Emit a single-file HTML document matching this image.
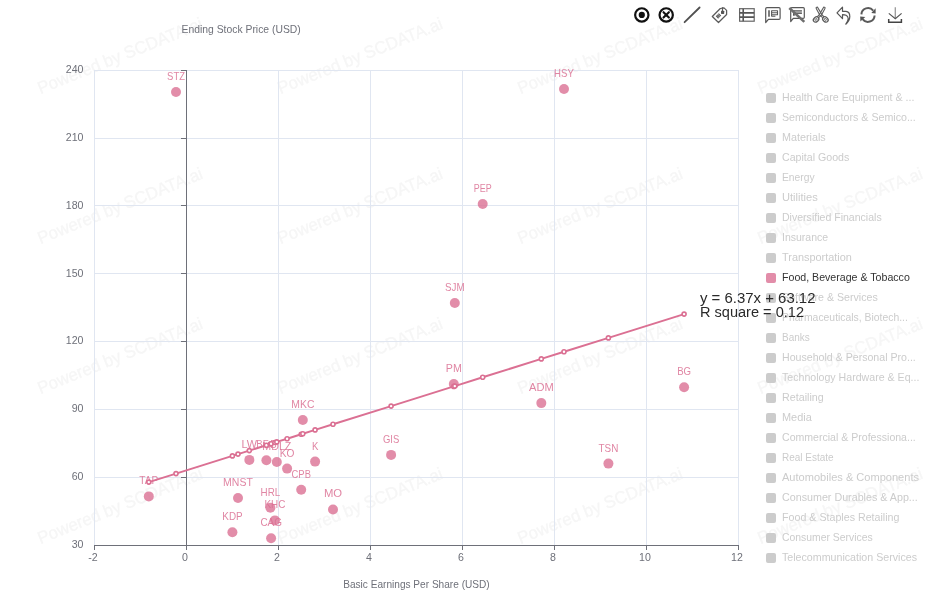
<!DOCTYPE html>
<html><head><meta charset="utf-8"><title>Chart</title>
<style>
html,body{margin:0;padding:0;background:#fff;}
body{width:939px;height:605px;overflow:hidden;font-family:"Liberation Sans", sans-serif;}
svg{display:block;will-change:transform;}
text{font-family:"Liberation Sans", sans-serif;}
</style></head><body>
<svg width="939" height="605" viewBox="0 0 939 605">
<rect width="939" height="605" fill="#fff"/>

<g fill="#f6f6f6" stroke="#f6f6f6" stroke-width="0.35" font-size="17.4">
<text transform="translate(40.4,94.3) rotate(-22)" textLength="176.5" lengthAdjust="spacingAndGlyphs">Powered by SCDATA.ai</text>
<text transform="translate(280.4,94.3) rotate(-22)" textLength="176.5" lengthAdjust="spacingAndGlyphs">Powered by SCDATA.ai</text>
<text transform="translate(520.4,94.3) rotate(-22)" textLength="176.5" lengthAdjust="spacingAndGlyphs">Powered by SCDATA.ai</text>
<text transform="translate(760.4,94.3) rotate(-22)" textLength="176.5" lengthAdjust="spacingAndGlyphs">Powered by SCDATA.ai</text>
<text transform="translate(40.4,244.3) rotate(-22)" textLength="176.5" lengthAdjust="spacingAndGlyphs">Powered by SCDATA.ai</text>
<text transform="translate(280.4,244.3) rotate(-22)" textLength="176.5" lengthAdjust="spacingAndGlyphs">Powered by SCDATA.ai</text>
<text transform="translate(520.4,244.3) rotate(-22)" textLength="176.5" lengthAdjust="spacingAndGlyphs">Powered by SCDATA.ai</text>
<text transform="translate(760.4,244.3) rotate(-22)" textLength="176.5" lengthAdjust="spacingAndGlyphs">Powered by SCDATA.ai</text>
<text transform="translate(40.4,394.3) rotate(-22)" textLength="176.5" lengthAdjust="spacingAndGlyphs">Powered by SCDATA.ai</text>
<text transform="translate(280.4,394.3) rotate(-22)" textLength="176.5" lengthAdjust="spacingAndGlyphs">Powered by SCDATA.ai</text>
<text transform="translate(520.4,394.3) rotate(-22)" textLength="176.5" lengthAdjust="spacingAndGlyphs">Powered by SCDATA.ai</text>
<text transform="translate(760.4,394.3) rotate(-22)" textLength="176.5" lengthAdjust="spacingAndGlyphs">Powered by SCDATA.ai</text>
<text transform="translate(40.4,544.3) rotate(-22)" textLength="176.5" lengthAdjust="spacingAndGlyphs">Powered by SCDATA.ai</text>
<text transform="translate(280.4,544.3) rotate(-22)" textLength="176.5" lengthAdjust="spacingAndGlyphs">Powered by SCDATA.ai</text>
<text transform="translate(520.4,544.3) rotate(-22)" textLength="176.5" lengthAdjust="spacingAndGlyphs">Powered by SCDATA.ai</text>
<text transform="translate(760.4,544.3) rotate(-22)" textLength="176.5" lengthAdjust="spacingAndGlyphs">Powered by SCDATA.ai</text>
</g>
<g stroke="#e0e6f1" stroke-width="1" shape-rendering="crispEdges">
<line x1="94.5" y1="70" x2="94.5" y2="545"/>
<line x1="186.5" y1="70" x2="186.5" y2="545"/>
<line x1="278.5" y1="70" x2="278.5" y2="545"/>
<line x1="370.5" y1="70" x2="370.5" y2="545"/>
<line x1="462.5" y1="70" x2="462.5" y2="545"/>
<line x1="554.5" y1="70" x2="554.5" y2="545"/>
<line x1="646.5" y1="70" x2="646.5" y2="545"/>
<line x1="738.5" y1="70" x2="738.5" y2="545"/>
<line x1="94" y1="545.5" x2="739" y2="545.5"/>
<line x1="94" y1="477.5" x2="739" y2="477.5"/>
<line x1="94" y1="409.5" x2="739" y2="409.5"/>
<line x1="94" y1="341.5" x2="739" y2="341.5"/>
<line x1="94" y1="273.5" x2="739" y2="273.5"/>
<line x1="94" y1="205.5" x2="739" y2="205.5"/>
<line x1="94" y1="138.5" x2="739" y2="138.5"/>
<line x1="94" y1="70.5" x2="739" y2="70.5"/>
</g>
<g stroke="#6e7079" stroke-width="1" shape-rendering="crispEdges">
<line x1="94" y1="545.5" x2="739" y2="545.5"/>
<line x1="186.5" y1="70" x2="186.5" y2="546"/>
<line x1="94.5" y1="545" x2="94.5" y2="550"/>
<line x1="186.5" y1="545" x2="186.5" y2="550"/>
<line x1="278.5" y1="545" x2="278.5" y2="550"/>
<line x1="370.5" y1="545" x2="370.5" y2="550"/>
<line x1="462.5" y1="545" x2="462.5" y2="550"/>
<line x1="554.5" y1="545" x2="554.5" y2="550"/>
<line x1="646.5" y1="545" x2="646.5" y2="550"/>
<line x1="738.5" y1="545" x2="738.5" y2="550"/>
<line x1="181" y1="545.5" x2="186" y2="545.5"/>
<line x1="181" y1="477.5" x2="186" y2="477.5"/>
<line x1="181" y1="409.5" x2="186" y2="409.5"/>
<line x1="181" y1="341.5" x2="186" y2="341.5"/>
<line x1="181" y1="273.5" x2="186" y2="273.5"/>
<line x1="181" y1="205.5" x2="186" y2="205.5"/>
<line x1="181" y1="138.5" x2="186" y2="138.5"/>
<line x1="181" y1="70.5" x2="186" y2="70.5"/>
</g>
<g fill="#6e7079" font-size="10.6">
<text x="93" y="561" text-anchor="middle">-2</text>
<text x="185" y="561" text-anchor="middle">0</text>
<text x="277" y="561" text-anchor="middle">2</text>
<text x="369" y="561" text-anchor="middle">4</text>
<text x="461" y="561" text-anchor="middle">6</text>
<text x="553" y="561" text-anchor="middle">8</text>
<text x="645" y="561" text-anchor="middle">10</text>
<text x="737" y="561" text-anchor="middle">12</text>
<text x="83.5" y="547.9" text-anchor="end">30</text>
<text x="83.5" y="480.0" text-anchor="end">60</text>
<text x="83.5" y="412.2" text-anchor="end">90</text>
<text x="83.5" y="344.3" text-anchor="end">120</text>
<text x="83.5" y="276.5" text-anchor="end">150</text>
<text x="83.5" y="208.6" text-anchor="end">180</text>
<text x="83.5" y="140.8" text-anchor="end">210</text>
<text x="83.5" y="72.9" text-anchor="end">240</text>
<text x="181.5" y="33" textLength="119.3" lengthAdjust="spacingAndGlyphs">Ending Stock Price (USD)</text>
<text x="343.2" y="588" textLength="146.5" lengthAdjust="spacingAndGlyphs">Basic Earnings Per Share (USD)</text>
</g>
<g fill="#db7093" fill-opacity="0.8">
<circle cx="176" cy="92" r="5"/>
<circle cx="564" cy="89" r="5"/>
<circle cx="482.7" cy="204" r="5"/>
<circle cx="454.8" cy="303" r="5"/>
<circle cx="453.8" cy="384" r="5"/>
<circle cx="541.3" cy="403.1" r="5"/>
<circle cx="684.1" cy="387.2" r="5"/>
<circle cx="608.4" cy="463.6" r="5"/>
<circle cx="391.1" cy="454.9" r="5"/>
<circle cx="302.8" cy="420" r="5"/>
<circle cx="315.1" cy="461.6" r="5"/>
<circle cx="249.35" cy="459.9" r="5"/>
<circle cx="266.4" cy="460.2" r="5"/>
<circle cx="276.8" cy="462" r="5"/>
<circle cx="287.1" cy="468.6" r="5"/>
<circle cx="301.2" cy="489.8" r="5"/>
<circle cx="238" cy="498" r="5"/>
<circle cx="270.4" cy="507.7" r="5"/>
<circle cx="274.9" cy="520.4" r="5"/>
<circle cx="271.1" cy="538.3" r="5"/>
<circle cx="232.4" cy="532.3" r="5"/>
<circle cx="333" cy="509.5" r="5"/>
<circle cx="148.8" cy="496.4" r="5"/>
</g>
<g fill="#db7093" fill-opacity="0.85" font-size="10.6">
<text x="167.1" y="79.9" textLength="17.9" lengthAdjust="spacingAndGlyphs">STZ</text>
<text x="554.1" y="76.9" textLength="19.7" lengthAdjust="spacingAndGlyphs">HSY</text>
<text x="473.8" y="191.9" textLength="17.9" lengthAdjust="spacingAndGlyphs">PEP</text>
<text x="445.0" y="290.9" textLength="19.6" lengthAdjust="spacingAndGlyphs">SJM</text>
<text x="445.8" y="371.9" textLength="16.0" lengthAdjust="spacingAndGlyphs">PM</text>
<text x="529.0" y="391.0" textLength="24.7" lengthAdjust="spacingAndGlyphs">ADM</text>
<text x="677.2" y="375.1" textLength="13.9" lengthAdjust="spacingAndGlyphs">BG</text>
<text x="598.5" y="451.5" textLength="19.8" lengthAdjust="spacingAndGlyphs">TSN</text>
<text x="382.9" y="442.8" textLength="16.3" lengthAdjust="spacingAndGlyphs">GIS</text>
<text x="291.3" y="407.9" textLength="23.1" lengthAdjust="spacingAndGlyphs">MKC</text>
<text x="311.9" y="449.5" textLength="6.4" lengthAdjust="spacingAndGlyphs">K</text>
<text x="241.6" y="447.8" textLength="15.5" lengthAdjust="spacingAndGlyphs">LW</text>
<text x="256.2" y="448.1" textLength="20.4" lengthAdjust="spacingAndGlyphs">BF.B</text>
<text x="262.3" y="449.9" textLength="29.1" lengthAdjust="spacingAndGlyphs">MDLZ</text>
<text x="279.8" y="456.5" textLength="14.7" lengthAdjust="spacingAndGlyphs">KO</text>
<text x="291.6" y="477.7" textLength="19.3" lengthAdjust="spacingAndGlyphs">CPB</text>
<text x="223.1" y="485.9" textLength="29.7" lengthAdjust="spacingAndGlyphs">MNST</text>
<text x="260.6" y="495.6" textLength="19.6" lengthAdjust="spacingAndGlyphs">HRL</text>
<text x="264.4" y="508.3" textLength="21.0" lengthAdjust="spacingAndGlyphs">KHC</text>
<text x="260.4" y="526.2" textLength="21.5" lengthAdjust="spacingAndGlyphs">CAG</text>
<text x="222.3" y="520.2" textLength="20.3" lengthAdjust="spacingAndGlyphs">KDP</text>
<text x="323.9" y="497.4" textLength="18.2" lengthAdjust="spacingAndGlyphs">MO</text>
<text x="139.3" y="484.3" textLength="19.0" lengthAdjust="spacingAndGlyphs">TAP</text>
</g>
<path d="M148.8,482.1 L176.0,473.6 L232.4,455.9 L238.0,454.1 L249.3,450.6 L266.4,445.2 L270.4,444.0 L271.1,443.7 L274.9,442.5 L276.8,441.9 L287.1,438.7 L301.2,434.3 L302.8,433.8 L315.1,429.9 L333.0,424.3 L391.1,406.1 L453.8,386.4 L454.8,386.1 L482.7,377.3 L541.3,358.9 L564.0,351.8 L608.4,337.9 L684.1,314.1" fill="none" stroke="#db7093" stroke-width="2" stroke-linejoin="round"/>
<g fill="#fff" stroke="#db7093" stroke-width="1.6">
<circle cx="148.8" cy="482.1" r="2"/>
<circle cx="176.0" cy="473.6" r="2"/>
<circle cx="232.4" cy="455.9" r="2"/>
<circle cx="238.0" cy="454.1" r="2"/>
<circle cx="249.3" cy="450.6" r="2"/>
<circle cx="266.4" cy="445.2" r="2"/>
<circle cx="270.4" cy="444.0" r="2"/>
<circle cx="271.1" cy="443.7" r="2"/>
<circle cx="274.9" cy="442.5" r="2"/>
<circle cx="276.8" cy="441.9" r="2"/>
<circle cx="287.1" cy="438.7" r="2"/>
<circle cx="301.2" cy="434.3" r="2"/>
<circle cx="302.8" cy="433.8" r="2"/>
<circle cx="315.1" cy="429.9" r="2"/>
<circle cx="333.0" cy="424.3" r="2"/>
<circle cx="391.1" cy="406.1" r="2"/>
<circle cx="453.8" cy="386.4" r="2"/>
<circle cx="454.8" cy="386.1" r="2"/>
<circle cx="482.7" cy="377.3" r="2"/>
<circle cx="541.3" cy="358.9" r="2"/>
<circle cx="564.0" cy="351.8" r="2"/>
<circle cx="608.4" cy="337.9" r="2"/>
<circle cx="684.1" cy="314.1" r="2"/>
</g>
<rect x="766" y="93" width="10" height="10" rx="2" ry="2" fill="#cccccc"/>
<text x="782" y="101" font-size="10.6" fill="#cccccc" textLength="132.4" lengthAdjust="spacingAndGlyphs">Health Care Equipment &amp; ...</text>
<rect x="766" y="113" width="10" height="10" rx="2" ry="2" fill="#cccccc"/>
<text x="782" y="121" font-size="10.6" fill="#cccccc" textLength="133.8" lengthAdjust="spacingAndGlyphs">Semiconductors &amp; Semico...</text>
<rect x="766" y="133" width="10" height="10" rx="2" ry="2" fill="#cccccc"/>
<text x="782" y="141" font-size="10.6" fill="#cccccc" textLength="43.7" lengthAdjust="spacingAndGlyphs">Materials</text>
<rect x="766" y="153" width="10" height="10" rx="2" ry="2" fill="#cccccc"/>
<text x="782" y="161" font-size="10.6" fill="#cccccc" textLength="67.3" lengthAdjust="spacingAndGlyphs">Capital Goods</text>
<rect x="766" y="173" width="10" height="10" rx="2" ry="2" fill="#cccccc"/>
<text x="782" y="181" font-size="10.6" fill="#cccccc" textLength="32.6" lengthAdjust="spacingAndGlyphs">Energy</text>
<rect x="766" y="193" width="10" height="10" rx="2" ry="2" fill="#cccccc"/>
<text x="782" y="201" font-size="10.6" fill="#cccccc" textLength="35.8" lengthAdjust="spacingAndGlyphs">Utilities</text>
<rect x="766" y="213" width="10" height="10" rx="2" ry="2" fill="#cccccc"/>
<text x="782" y="221" font-size="10.6" fill="#cccccc" textLength="99.7" lengthAdjust="spacingAndGlyphs">Diversified Financials</text>
<rect x="766" y="233" width="10" height="10" rx="2" ry="2" fill="#cccccc"/>
<text x="782" y="241" font-size="10.6" fill="#cccccc" textLength="46.1" lengthAdjust="spacingAndGlyphs">Insurance</text>
<rect x="766" y="253" width="10" height="10" rx="2" ry="2" fill="#cccccc"/>
<text x="782" y="261" font-size="10.6" fill="#cccccc" textLength="69.9" lengthAdjust="spacingAndGlyphs">Transportation</text>
<rect x="766" y="273" width="10" height="10" rx="2" ry="2" fill="#e28da9"/>
<text x="782" y="281" font-size="10.6" fill="#333333" textLength="127.8" lengthAdjust="spacingAndGlyphs">Food, Beverage &amp; Tobacco</text>
<rect x="766" y="293" width="10" height="10" rx="2" ry="2" fill="#cccccc"/>
<text x="782" y="301" font-size="10.6" fill="#cccccc" textLength="95.7" lengthAdjust="spacingAndGlyphs">Software &amp; Services</text>
<rect x="766" y="313" width="10" height="10" rx="2" ry="2" fill="#cccccc"/>
<text x="782" y="321" font-size="10.6" fill="#cccccc" textLength="125.9" lengthAdjust="spacingAndGlyphs">Pharmaceuticals, Biotech...</text>
<rect x="766" y="333" width="10" height="10" rx="2" ry="2" fill="#cccccc"/>
<text x="782" y="341" font-size="10.6" fill="#cccccc" textLength="27.8" lengthAdjust="spacingAndGlyphs">Banks</text>
<rect x="766" y="353" width="10" height="10" rx="2" ry="2" fill="#cccccc"/>
<text x="782" y="361" font-size="10.6" fill="#cccccc" textLength="133.8" lengthAdjust="spacingAndGlyphs">Household &amp; Personal Pro...</text>
<rect x="766" y="373" width="10" height="10" rx="2" ry="2" fill="#cccccc"/>
<text x="782" y="381" font-size="10.6" fill="#cccccc" textLength="137.4" lengthAdjust="spacingAndGlyphs">Technology Hardware &amp; Eq...</text>
<rect x="766" y="393" width="10" height="10" rx="2" ry="2" fill="#cccccc"/>
<text x="782" y="401" font-size="10.6" fill="#cccccc" textLength="41.7" lengthAdjust="spacingAndGlyphs">Retailing</text>
<rect x="766" y="413" width="10" height="10" rx="2" ry="2" fill="#cccccc"/>
<text x="782" y="421" font-size="10.6" fill="#cccccc" textLength="29.8" lengthAdjust="spacingAndGlyphs">Media</text>
<rect x="766" y="433" width="10" height="10" rx="2" ry="2" fill="#cccccc"/>
<text x="782" y="441" font-size="10.6" fill="#cccccc" textLength="133.8" lengthAdjust="spacingAndGlyphs">Commercial &amp; Professiona...</text>
<rect x="766" y="453" width="10" height="10" rx="2" ry="2" fill="#cccccc"/>
<text x="782" y="461" font-size="10.6" fill="#cccccc" textLength="51.6" lengthAdjust="spacingAndGlyphs">Real Estate</text>
<rect x="766" y="473" width="10" height="10" rx="2" ry="2" fill="#cccccc"/>
<text x="782" y="481" font-size="10.6" fill="#cccccc" textLength="137.0" lengthAdjust="spacingAndGlyphs">Automobiles &amp; Components</text>
<rect x="766" y="493" width="10" height="10" rx="2" ry="2" fill="#cccccc"/>
<text x="782" y="501" font-size="10.6" fill="#cccccc" textLength="135.8" lengthAdjust="spacingAndGlyphs">Consumer Durables &amp; App...</text>
<rect x="766" y="513" width="10" height="10" rx="2" ry="2" fill="#cccccc"/>
<text x="782" y="521" font-size="10.6" fill="#cccccc" textLength="117.5" lengthAdjust="spacingAndGlyphs">Food &amp; Staples Retailing</text>
<rect x="766" y="533" width="10" height="10" rx="2" ry="2" fill="#cccccc"/>
<text x="782" y="541" font-size="10.6" fill="#cccccc" textLength="90.7" lengthAdjust="spacingAndGlyphs">Consumer Services</text>
<rect x="766" y="553" width="10" height="10" rx="2" ry="2" fill="#cccccc"/>
<text x="782" y="561" font-size="10.6" fill="#cccccc" textLength="135.0" lengthAdjust="spacingAndGlyphs">Telecommunication Services</text>
<g fill="#2a2a2a" font-size="15.4">
<text x="700" y="302.5" textLength="115.5" lengthAdjust="spacingAndGlyphs">y = 6.37x + 63.12</text>
<text x="700" y="316.5" textLength="104" lengthAdjust="spacingAndGlyphs">R square = 0.12</text>
</g>
<g id="toolbox" fill="none" stroke-linecap="butt" stroke-linejoin="miter">
<!-- 1 radio dot -->
<circle cx="641.8" cy="14.9" r="6.65" stroke="#111" stroke-width="2.2"/>
<circle cx="641.8" cy="14.9" r="3.1" fill="#111"/>
<!-- 2 circle x -->
<circle cx="666.2" cy="14.9" r="6.65" stroke="#111" stroke-width="2.2"/>
<path d="M663.5,12.2 L668.9,17.6 M668.9,12.2 L663.5,17.6" stroke="#111" stroke-width="2.1" stroke-linecap="round"/>
<!-- 3 line -->
<path d="M684.6,22.2 L699.6,7.5" stroke="#505050" stroke-width="1.8" stroke-linecap="round"/>
<!-- 4 tag -->
<g stroke="#5a5a5a" stroke-width="1.25" stroke-linejoin="round">
<path d="M712.3,16.5 L720.3,8.5 L724,7.9 L726.6,10.4 L726.6,14.5 L718.5,22.5 Z"/>
<path d="M722.5,12 L722.5,7.2" stroke-width="1.2"/>
<rect x="721.0" y="10.7" width="3.2" height="3.2" rx="0.6" fill="#555" stroke="none"/>
<path d="M716.2,15.8 L718.6,18.2 M717.3,14.7 L719.7,17.1 M718.4,13.6 L720.8,16" stroke-width="1.25"/>
</g>
<!-- 5 table -->
<g stroke="#555">
<rect x="739.6" y="8.7" width="14.6" height="12.5" stroke-width="1.2" stroke="#666"/>
<path d="M739.6,12.8 H754.2 M739.6,17.1 H754.2" stroke-width="1.8"/>
<path d="M743.2,8.7 V21.2" stroke-width="1.6"/>
</g>
<!-- 6 bubble with text -->
<g stroke="#585858" stroke-width="1.2" stroke-linejoin="round">
<path d="M766.9,7.7 H779.0 Q780.1,7.7 780.1,8.8 V18.2 Q780.1,19.3 779.0,19.3 H768.4 L765.7,22.5 V8.8 Q765.7,7.7 766.9,7.7 Z"/>
<path d="M769.0,10.2 V16.8" stroke-width="1.7" stroke="#666"/>
<path d="M771.6,16.6 V10.7 H777.5 V14.8 H771.6 M771.6,12.75 H777.5 M771.6,16.2 H775.4" stroke-width="1.1"/>
</g>
<!-- 7 bubble with slash -->
<g stroke="#585858" stroke-width="1.2" stroke-linejoin="round">
<path d="M791.8,7.7 H803.2 Q804.3,7.7 804.3,8.8 V17.2 Q804.3,18.3 803.2,18.3 H793.3 L790.7,21.5 V8.8 Q790.7,7.7 791.8,7.7 Z"/>
<path d="M793.9,10.2 V15.8" stroke-width="1.8"/>
<path d="M793.0,12.1 H801.9" stroke-width="3.6" stroke="#b0b0b0"/>
<path d="M793.0,10.8 H801.9 M793.0,13.4 H801.9" stroke-width="1.1" stroke="#666"/>
<path d="M789.3,8.0 L804.3,21.9" stroke-width="2.5" stroke="#6e6e6e"/>
</g>
<!-- 8 scissors -->
<g stroke="#5c5c5c" stroke-width="1.1" stroke-linejoin="round">
<path d="M816.1,8.3 Q816.0,7.0 817.4,7.0 L821.9,14.6 L824.0,16.9 M816.1,8.3 L820.0,15.4 L822.6,17.6"/>
<path d="M825.1,8.3 Q825.2,7.0 823.8,7.0 L819.3,14.6 L817.2,16.9 M825.1,8.3 L821.2,15.4 L818.6,17.6"/>
<ellipse cx="816.1" cy="19.4" rx="2.3" ry="3.0" transform="rotate(50 816.1 19.4)" stroke-width="1.3"/>
<ellipse cx="816.1" cy="19.4" rx="0.8" ry="1.2" transform="rotate(50 816.1 19.4)" stroke-width="0.8"/>
<ellipse cx="825.4" cy="19.4" rx="2.3" ry="3.0" transform="rotate(-50 825.4 19.4)" stroke-width="1.3"/>
<ellipse cx="825.4" cy="19.4" rx="0.8" ry="1.2" transform="rotate(-50 825.4 19.4)" stroke-width="0.8"/>
</g>
<!-- 9 undo -->
<path d="M837.0,12.9 L842.5,7.2 L842.5,11.3 L846,11.4 C848.6,11.6 849.8,14 849.8,16.5 C849.8,19.5 848.2,22 845.8,24.2 C847.6,21.5 848.8,19 847.9,17.2 C847,15.2 845.5,14.8 842.5,14.7 L842.5,18.7 Z" stroke="#555" stroke-width="1.2" stroke-linejoin="round"/>
<!-- 10 refresh -->
<g stroke="#5a5a5a" stroke-width="2.0">
<path d="M861.4,14.4 A6.6,6.6 0 0 1 873.2,10.6"/>
<path d="M874.6,15.5 A6.6,6.6 0 0 1 862.6,19.0"/>
<path d="M875.6,8.2 L875.6,13.5 L871.3,13.1 Z" fill="#555" stroke="none"/>
<path d="M860.2,16.5 L865.3,16.9 L860.4,21.6 Z" fill="#555" stroke="none"/>
</g>
<!-- 11 download -->
<path d="M895.3,7.2 V18.5" stroke="#999" stroke-width="1.3"/>
<path d="M888.8,13.4 L895.3,18.8 L901.6,13.4" stroke="#555" stroke-width="1.2"/>
<path d="M888.7,19.1 V22.3 H901.4 V19.1" stroke="#444" stroke-width="1.5"/>
</g>

</svg></body></html>
